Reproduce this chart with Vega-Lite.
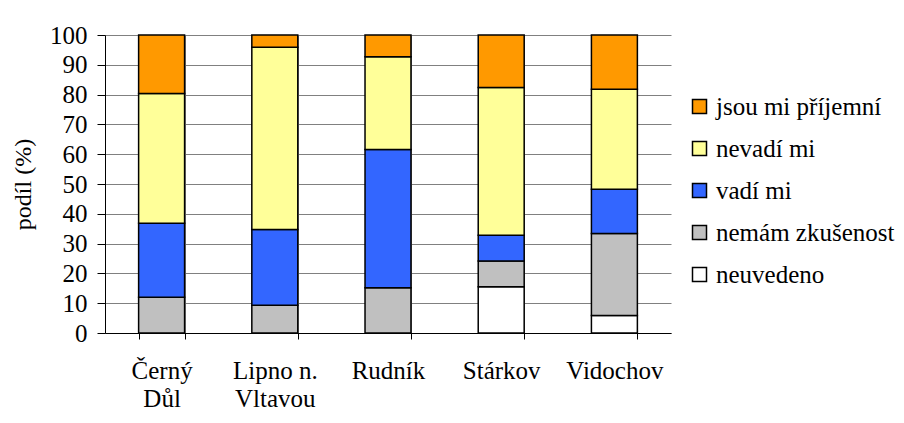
{
  "$schema": "https://vega.github.io/schema/vega-lite/v6.json",
  "autosize": {"type": "none"},
  "padding": {"left": 105, "top": 35, "right": 233, "bottom": 90},
  "width": 566,
  "height": 298,
  "background": "white",
  "data": {
    "values": [
      {"obec": "Černý Důl", "odpoved": "nemám zkušenost", "podil": 12.0},
      {"obec": "Černý Důl", "odpoved": "vadí mi", "podil": 24.8},
      {"obec": "Černý Důl", "odpoved": "nevadí mi", "podil": 43.6},
      {"obec": "Černý Důl", "odpoved": "jsou mi příjemní", "podil": 19.6},
      {"obec": "Lipno n. Vltavou", "odpoved": "nemám zkušenost", "podil": 9.3},
      {"obec": "Lipno n. Vltavou", "odpoved": "vadí mi", "podil": 25.4},
      {"obec": "Lipno n. Vltavou", "odpoved": "nevadí mi", "podil": 61.2},
      {"obec": "Lipno n. Vltavou", "odpoved": "jsou mi příjemní", "podil": 4.1},
      {"obec": "Rudník", "odpoved": "nemám zkušenost", "podil": 15.2},
      {"obec": "Rudník", "odpoved": "vadí mi", "podil": 46.4},
      {"obec": "Rudník", "odpoved": "nevadí mi", "podil": 31.1},
      {"obec": "Rudník", "odpoved": "jsou mi příjemní", "podil": 7.3},
      {"obec": "Stárkov", "odpoved": "neuvedeno", "podil": 15.5},
      {"obec": "Stárkov", "odpoved": "nemám zkušenost", "podil": 8.7},
      {"obec": "Stárkov", "odpoved": "vadí mi", "podil": 8.6},
      {"obec": "Stárkov", "odpoved": "nevadí mi", "podil": 49.6},
      {"obec": "Stárkov", "odpoved": "jsou mi příjemní", "podil": 17.6},
      {"obec": "Vidochov", "odpoved": "neuvedeno", "podil": 5.9},
      {"obec": "Vidochov", "odpoved": "nemám zkušenost", "podil": 27.5},
      {"obec": "Vidochov", "odpoved": "vadí mi", "podil": 14.8},
      {"obec": "Vidochov", "odpoved": "nevadí mi", "podil": 33.6},
      {"obec": "Vidochov", "odpoved": "jsou mi příjemní", "podil": 18.2}
    ]
  },
  "transform": [
    {"calculate": "indexof(['neuvedeno','nemám zkušenost','vadí mi','nevadí mi','jsou mi příjemní'], datum.odpoved)", "as": "poradi"}
  ],
  "mark": {"type": "bar", "stroke": "black", "strokeWidth": 1.5},
  "encoding": {
    "x": {
      "field": "obec",
      "type": "nominal",
      "sort": null,
      "scale": {"paddingInner": 0.594, "paddingOuter": 0.297},
      "axis": {
        "title": null,
        "labelAngle": 0,
        "tickBand": "extent",
        "grid": true,
        "gridColor": "#808080",
        "gridWidth": 1,
        "domainColor": "black",
        "tickColor": "black",
        "tickSize": 6,
        "labelFontSize": 25,
        "labelColor": "black",
        "labelPadding": 19,
        "labelBaseline": "top",
        "labelLineHeight": 28,
        "labelExpr": "datum.label == 'Černý Důl' ? ['Černý', 'Důl'] : datum.label == 'Lipno n. Vltavou' ? ['Lipno n.', 'Vltavou'] : datum.label"
      }
    },
    "y": {
      "field": "podil",
      "type": "quantitative",
      "stack": "zero",
      "scale": {"domain": [0, 100], "nice": false},
      "axis": {
        "title": "podíl (%)",
        "values": [0, 10, 20, 30, 40, 50, 60, 70, 80, 90, 100],
        "grid": true,
        "gridColor": "#808080",
        "gridWidth": 1,
        "domainColor": "black",
        "tickColor": "black",
        "tickSize": 8,
        "labelPadding": 10,
        "labelFontSize": 25,
        "labelColor": "black",
        "titleFontSize": 24,
        "titleFontWeight": "normal",
        "titleColor": "black",
        "titlePadding": 14
      }
    },
    "color": {
      "field": "odpoved",
      "type": "nominal",
      "scale": {
        "domain": ["jsou mi příjemní", "nevadí mi", "vadí mi", "nemám zkušenost", "neuvedeno"],
        "range": ["#FF9900", "#FFFF99", "#3366FF", "#C0C0C0", "#FFFFFF"]
      },
      "legend": {
        "title": null,
        "orient": "none",
        "legendX": 582,
        "legendY": 59,
        "symbolType": "square",
        "symbolSize": 196,
        "symbolStrokeColor": "black",
        "symbolStrokeWidth": 1.5,
        "symbolOpacity": 1,
        "labelFontSize": 25,
        "labelColor": "black",
        "labelOffset": 4,
        "rowPadding": 16,
        "labelLimit": 300
      }
    },
    "order": {"field": "poradi", "type": "quantitative", "sort": "ascending"}
  },
  "config": {
    "font": "Liberation Serif",
    "axis": {"labelFont": "Liberation Serif", "titleFont": "Liberation Serif"},
    "legend": {"labelFont": "Liberation Serif"},
    "view": {"stroke": null}
  }
}
